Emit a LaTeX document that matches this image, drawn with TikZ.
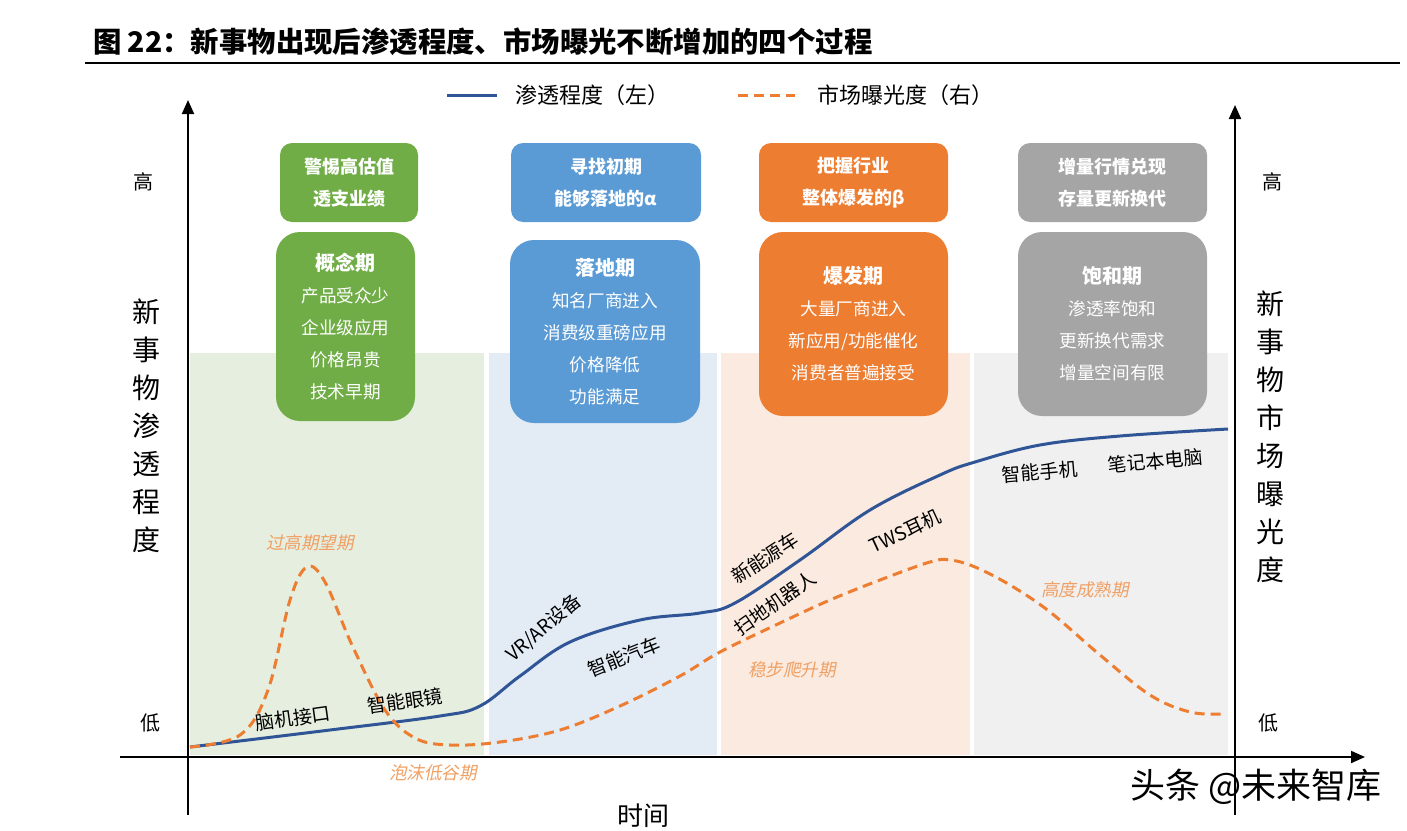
\documentclass[tikz,border=0pt]{standalone}
\usepackage{fontspec}
\setmainfont{Noto Sans CJK SC}
\newfontfamily\slfont[FakeSlant=0.2]{Noto Sans CJK SC}
\usetikzlibrary{arrows.meta}

\definecolor{penblue}{HTML}{2F5597}
\definecolor{expor}{HTML}{ED7D31}
\definecolor{labor}{HTML}{F0A064}
\definecolor{gbox}{HTML}{70AD47}
\definecolor{bbox}{HTML}{5B9BD5}
\definecolor{obox}{HTML}{ED7D31}
\definecolor{hbox}{HTML}{A5A5A5}
\definecolor{gband}{HTML}{E6EEE0}
\definecolor{bband}{HTML}{E3EBF5}
\definecolor{oband}{HTML}{FAEADF}
\definecolor{hband}{HTML}{F0F0F0}

\begin{document}
\begin{tikzpicture}[x=0.5pt, y=-0.5pt,
  topbox/.style={rounded corners=6pt, text=white, align=center, inner sep=0pt,
    font=\bfseries\fontsize{9}{16}\selectfont, minimum height=39.5pt},
  phase/.style={rounded corners=12pt, text=white, align=center, inner sep=0pt,
    font=\fontsize{8.8}{16}\selectfont},
  lab/.style={font=\fontsize{9.5}{11}\selectfont},
  olab/.style={font=\slfont\fontsize{8.8}{10}\selectfont, text=labor},
  vlab/.style={align=center, font=\fontsize{14}{19}\selectfont},
  ax/.style={line width=1pt, -{Triangle[length=7pt,width=6pt]}},
  pen/.style={line width=1.5pt, penblue},
  expo/.style={line width=1.5pt, expor, dash pattern=on 5pt off 3pt}]

  \useasboundingbox (0,0) rectangle (1407,830);

  % title
  \node[anchor=west, font=\bfseries\fontsize{14.2}{16}\selectfont] (title) at (86,42)
    {图 22：新事物出现后渗透程度、市场曝光不断增加的四个过程};
  \coordinate (rl) at (85,63);
  \coordinate (rr) at (1400,63);
  \draw[line width=1.2pt] (rl) -- (rr);

  % legend
  \coordinate (l1a) at (447,95);
  \coordinate (l1b) at (497,95);
  \draw[pen] (l1a) -- (l1b);
  \node[anchor=west, font=\fontsize{11}{12}\selectfont] (leg1) at (508,95) {渗透程度（左）};
  \coordinate (l2a) at (738,95);
  \coordinate (l2b) at (795,95);
  \draw[expo] (l2a) -- (l2b);
  \node[anchor=west, font=\fontsize{11}{12}\selectfont] (leg2) at (810,95) {市场曝光度（右）};

  % bands
  \fill[gband] (190,353) rectangle (484,755);
  \fill[bband] (489,353) rectangle (717,755);
  \fill[oband] (721,353) rectangle (970,755);
  \fill[hband] (974,353) rectangle (1228,755);

  % axes
  \coordinate (ybot) at (188,815);
  \coordinate (ytop) at (188,100);
  \coordinate (xl) at (120,757);
  \coordinate (xr) at (1365,757);
  \coordinate (rbot) at (1235,815);
  \coordinate (rtop) at (1235,105);
  \draw[ax] (ybot) -- (ytop);
  \draw[ax] (xl) -- (xr);
  \draw[ax] (rbot) -- (rtop);

  \node[font=\fontsize{10}{11}\selectfont] (hl) at (143,182) {高};
  \node[font=\fontsize{10}{11}\selectfont] (ll) at (150,723) {低};
  \node[font=\fontsize{10}{11}\selectfont] (hr) at (1272,182) {高};
  \node[font=\fontsize{10}{11}\selectfont] (lr) at (1268,723) {低};
  \node[vlab] (ylab) at (146,426) {新\\事\\物\\渗\\透\\程\\度};
  \node[vlab] (rlab) at (1270,437) {新\\事\\物\\市\\场\\曝\\光\\度};
  \node[font=\fontsize{13}{14}\selectfont] (time) at (643,816) {时间};

  % boxes
  \node[topbox, fill=gbox, minimum width=69pt] (g1) at (349,182.5) {警惕高估值\\透支业绩};
  \node[topbox, fill=bbox, minimum width=95pt] (b1) at (606,182.5) {寻找初期\\能够落地的α};
  \node[topbox, fill=obox, minimum width=94.5pt] (o1) at (853.5,182.5) {把握行业\\整体爆发的β};
  \node[topbox, fill=hbox, minimum width=94.5pt] (h1) at (1112.5,182.5) {增量行情兑现\\存量更新换代};

  \node[phase, fill=gbox, minimum width=69.5pt, minimum height=94.5pt] (g2) at (345.5,326.5)
    {{\bfseries\fontsize{10}{16}\selectfont 概念期}\\产品受众少\\企业级应用\\价格昂贵\\技术早期};
  \node[phase, fill=bbox, minimum width=95pt, minimum height=91.5pt] (b2) at (605,331.5)
    {{\bfseries\fontsize{10}{16}\selectfont 落地期}\\知名厂商进入\\消费级重磅应用\\价格降低\\功能满足};
  \node[phase, fill=obox, minimum width=94.5pt, minimum height=92pt] (o2) at (853.5,324)
    {{\bfseries\fontsize{10}{16}\selectfont 爆发期}\\大量厂商进入\\新应用/功能催化\\消费者普遍接受};
  \node[phase, fill=hbox, minimum width=94.5pt, minimum height=92pt] (h2) at (1112.5,324)
    {{\bfseries\fontsize{10}{16}\selectfont 饱和期}\\渗透率饱和\\更新换代需求\\增量空间有限};

  % curves
  \draw[pen] plot[smooth, tension=0.6] coordinates {(190,747) (330,730) (440,716) (480,706)
    (520,676) (570,642) (640,620) (700,613) (735,603) (800,560) (870,510) (940,475)
    (975,462) (1040,445) (1120,436) (1228,429)};
  \draw[expo] plot[smooth, tension=0.6] coordinates {(190,747) (240,735) (268,690)
    (290,600) (307,567) (325,582) (352,645) (385,710) (415,738) (450,745) (500,742)
    (560,730) (620,706) (680,676) (720,652) (780,623) (830,600) (880,580) (930,562)
    (950,560) (975,567) (1010,585) (1050,612) (1100,655) (1150,695) (1190,712) (1222,714)};

  % curve labels
  \node[olab] (o_a) at (310,543) {过高期望期};
  \node[olab] (o_b) at (433,773) {泡沫低谷期};
  \node[olab] (o_c) at (792,670) {稳步爬升期};
  \node[olab] (o_d) at (1085,590) {高度成熟期};

  \node[lab, rotate=8] (p1) at (293,718) {脑机接口};
  \node[lab, rotate=8] (p2) at (405,701) {智能眼镜};
  \node[lab, rotate=40] (p3) at (544,628) {VR/AR设备};
  \node[lab, rotate=22] (p4) at (624,657) {智能汽车};
  \node[lab, rotate=33] (p5) at (765,558) {新能源车};
  \node[lab, rotate=35] (p6) at (775,603) {扫地机器人};
  \node[lab, rotate=25] (p7) at (905,531) {TWS耳机};
  \node[lab, rotate=5] (p8) at (1040,472) {智能手机};
  \node[lab, rotate=5] (p9) at (1155,461) {笔记本电脑};

  \node[font=\fontsize{17.5}{19}\selectfont] (mark) at (1256,787) {头条 @未来智库};
\end{tikzpicture}
\end{document}
